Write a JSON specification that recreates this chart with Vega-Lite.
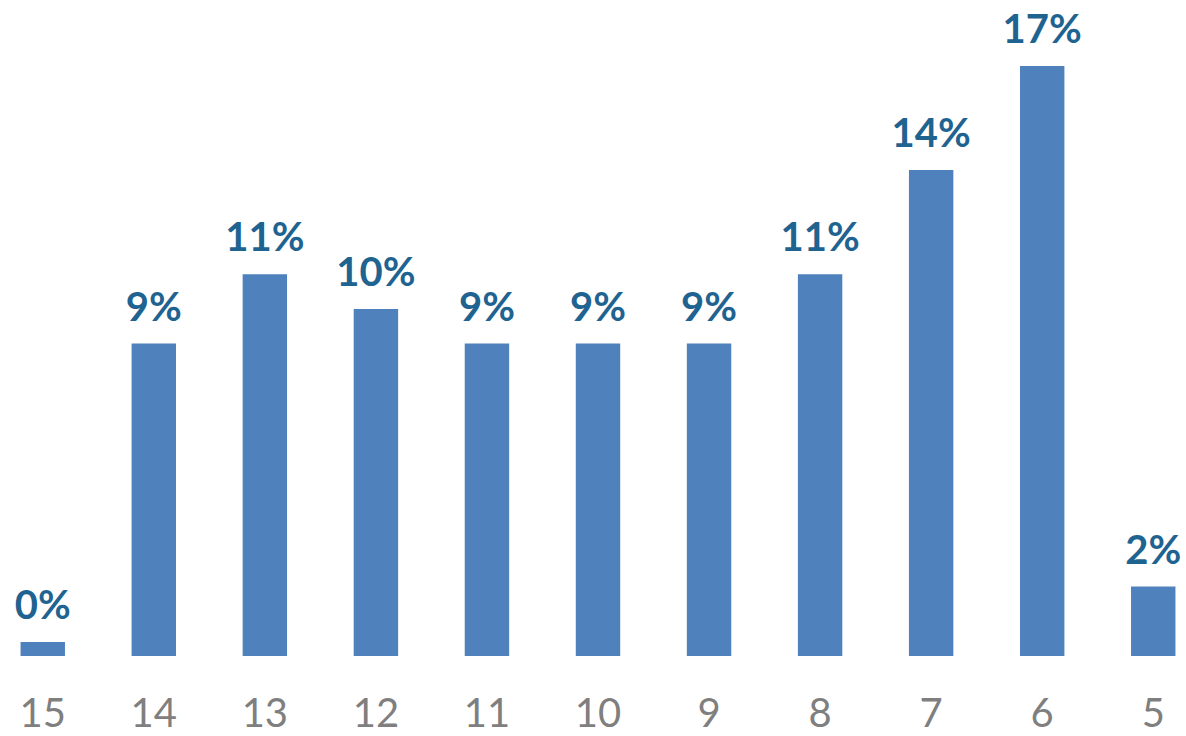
{
  "$schema": "https://vega.github.io/schema/vega-lite/v6.json",
  "width": 1186,
  "height": 656,
  "autosize": {"type": "none"},
  "padding": {"left": 0, "right": 0, "top": 0, "bottom": 80},
  "background": "white",
  "config": {"view": {"stroke": null}},
  "data": {
    "values": [
      {"grade": "15", "share": 0.004},
      {"grade": "14", "share": 0.09},
      {"grade": "13", "share": 0.11},
      {"grade": "12", "share": 0.10},
      {"grade": "11", "share": 0.09},
      {"grade": "10", "share": 0.09},
      {"grade": "9", "share": 0.09},
      {"grade": "8", "share": 0.11},
      {"grade": "7", "share": 0.14},
      {"grade": "6", "share": 0.17},
      {"grade": "5", "share": 0.02}
    ]
  },
  "encoding": {
    "x": {
      "field": "grade",
      "type": "nominal",
      "sort": null,
      "scale": {"range": [0, 1196], "paddingInner": 0.6, "paddingOuter": 0.185},
      "axis": {
        "title": null,
        "domain": false,
        "ticks": false,
        "labelAngle": 0,
        "labelFont": "Lato",
        "labelFontSize": 40,
        "labelColor": "#7F7F7F",
        "labelBaseline": "alphabetic",
        "labelPadding": 70
      }
    },
    "y": {
      "field": "share",
      "type": "quantitative",
      "scale": {"domain": [0, 0.189], "nice": false},
      "axis": null
    }
  },
  "layer": [
    {"mark": {"type": "bar", "color": "#4F81BD"}},
    {
      "mark": {"type": "text", "baseline": "alphabetic", "dy": -23, "font": "Lato", "fontWeight": "bold", "fontSize": 40, "color": "#1F6391"},
      "encoding": {"text": {"field": "share", "type": "quantitative", "format": ".0%"}}
    }
  ]
}
